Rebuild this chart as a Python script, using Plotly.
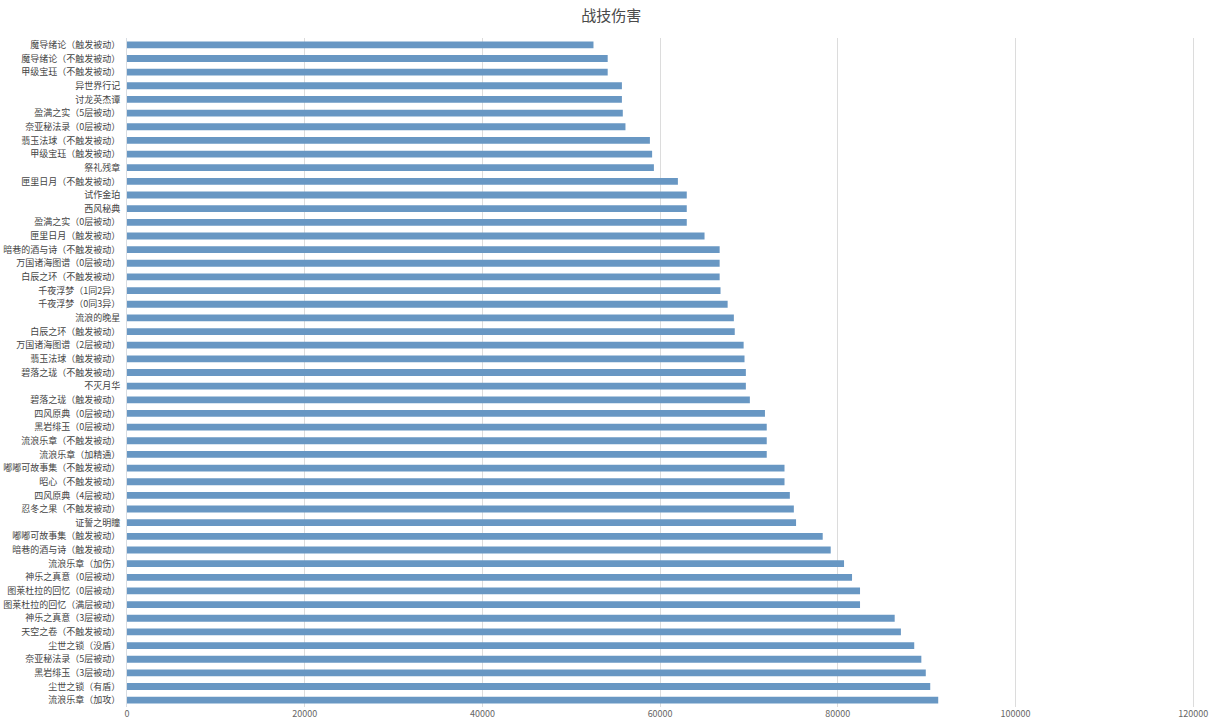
import plotly.graph_objects as go

# weapons, top to bottom as in the chart
weapons = [
    '魔导绪论（触发被动）', '魔导绪论（不触发被动）', '甲级宝珏（不触发被动）', '异世界行记', '讨龙英杰谭',
    '盈满之实（5层被动）', '奈亚秘法录（0层被动）', '翡玉法球（不触发被动）', '甲级宝珏（触发被动）', '祭礼残章',
    '匣里日月（不触发被动）', '试作金珀', '西风秘典', '盈满之实（0层被动）', '匣里日月（触发被动）',
    '暗巷的酒与诗（不触发被动）', '万国诸海图谱（0层被动）', '白辰之环（不触发被动）', '千夜浮梦（1同2异）',
    '千夜浮梦（0同3异）', '流浪的晚星', '白辰之环（触发被动）', '万国诸海图谱（2层被动）', '翡玉法球（触发被动）',
    '碧落之珑（不触发被动）', '不灭月华', '碧落之珑（触发被动）', '四风原典（0层被动）', '黑岩绯玉（0层被动）',
    '流浪乐章（不触发被动）', '流浪乐章（加精通）', '嘟嘟可故事集（不触发被动）', '昭心（不触发被动）',
    '四风原典（4层被动）', '忍冬之果（不触发被动）', '证誓之明瞳', '嘟嘟可故事集（触发被动）',
    '暗巷的酒与诗（触发被动）', '流浪乐章（加伤）', '神乐之真意（0层被动）', '图莱杜拉的回忆（0层被动）',
    '图莱杜拉的回忆（满层被动）', '神乐之真意（3层被动）', '天空之卷（不触发被动）', '尘世之锁（没盾）',
    '奈亚秘法录（5层被动）', '黑岩绯玉（3层被动）', '尘世之锁（有盾）', '流浪乐章（加攻）',
]

damage = [
    52500, 54100, 54100, 55700, 55700, 55800, 56100, 58850, 59100, 59300,
    62000, 63000, 63000, 63000, 65000, 66700, 66700, 66700, 66800, 67600,
    68300, 68400, 69400, 69500, 69650, 69650, 70100, 71800, 72000, 72000,
    72000, 74000, 74000, 74600, 75050, 75300, 78300, 79200, 80700, 81600,
    82500, 82500, 86400, 87100, 88600, 89400, 89900, 90400, 91300,
]

fig = go.Figure()
fig.add_trace(go.Bar(
    x=damage, y=weapons, orientation='h',
    marker=dict(color='#6897c3', line=dict(width=0)),
    width=0.5,
    name='战技伤害',
))

fig.update_layout(
    title=dict(text='战技伤害', x=0.503, xanchor='center', y=0.978, yanchor='middle',
               font=dict(size=15, color='#4a4a4a'), automargin=False),
    width=1215, height=728,
    margin=dict(l=127, r=4, t=38, b=21, autoexpand=False),
    paper_bgcolor='white', plot_bgcolor='white',
    font=dict(family='Noto Sans CJK SC, sans-serif', size=9, color='#555'),
    showlegend=False,
    xaxis=dict(range=[0, 122000], tickvals=[0, 20000, 40000, 60000, 80000, 100000, 120000],
               tickformat='d', automargin=False,
               showgrid=True, gridcolor='#dcdcdc', gridwidth=1, zeroline=False,
               tickfont=dict(size=9, color='#666'), ticks='', showline=False),
    yaxis=dict(autorange='reversed', showgrid=False, showline=True, linecolor='#d8dde3',
               linewidth=1, ticks='', ticklabelstandoff=4, automargin=False,
               tickfont=dict(size=9, color='#444')),
)

# drop the page's default 8px body margin so the figure fills the window
fig.write_html("out.html", config={'displayModeBar': False},
               post_script="document.body.style.margin='0';")
